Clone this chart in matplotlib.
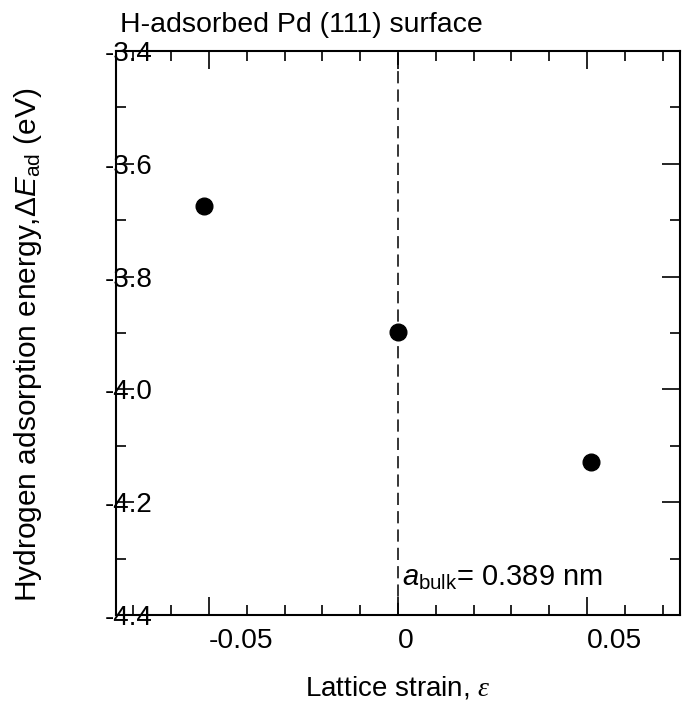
import matplotlib
matplotlib.use("Agg")
import matplotlib.pyplot as plt

# lattice strain vs H adsorption energy on Pd(111)
strain = [-0.0514, 0.0, 0.0511]
energy = [-3.674, -3.899, -4.129]
xticks = [-0.05, 0.0, 0.05]
xticklabels = ["-0.05", "0", "0.05"]
yticks = [-3.4, -3.6, -3.8, -4.0, -4.2, -4.4]
yticklabels = ["-3.4", "-3.6", "-3.8", "-4.0", "-4.2", "-4.4"]

plt.rcParams['font.family'] = ['Liberation Sans', 'DejaVu Sans']
plt.rcParams['mathtext.fontset'] = 'custom'
plt.rcParams['mathtext.rm'] = 'Liberation Sans'
plt.rcParams['mathtext.it'] = 'Liberation Sans:italic'
plt.rcParams['mathtext.cal'] = 'Liberation Serif:italic'

fig = plt.figure(figsize=(6.82, 7.07), dpi=100)
ax = fig.add_axes([116/682, 92/707, 564/682, 564/707])

ax.axvline(0, color='black', lw=1.1, ls=(0, (8, 4)), zorder=1)
ax.plot(strain, energy, 'o', color='black', ms=12, zorder=3)

ax.set_xlim(-0.0746, 0.0746)
ax.set_ylim(-4.4, -3.4)
ax.set_xticks(xticks)
ax.set_xticklabels(xticklabels, ha='left')
ax.set_yticks(yticks)
ax.set_yticklabels(yticklabels, ha='left')
ax.set_xticks([x / 100 for x in range(-7, 8)], minor=True)
ax.set_yticks([-3.4 - y / 10 for y in range(11)], minor=True)

ax.tick_params(which='both', direction='in', top=True, right=True, width=1.2)
ax.tick_params(which='major', length=13)
ax.tick_params(which='minor', length=7)
ax.tick_params(axis='x', labelsize=20.3, pad=9)
ax.tick_params(axis='y', labelsize=20, pad=8)
for s in ax.spines.values():
    s.set_linewidth(1.5)

ax.text(0.001, -4.334, r"$a_{\rm bulk}$= 0.389 nm", fontsize=21, va='center', ha='left')

ax.set_xlabel(r"Lattice strain, $\mathcal{\varepsilon}$", fontsize=20)
ax.xaxis.set_label_coords(0.5, -0.105)
ax.set_ylabel(r"Hydrogen adsorption energy,$\Delta E_{\rm ad}$ (eV)", fontsize=21.5)
ax.yaxis.set_label_coords(-0.128, 0.478)

fig.text(120/682, 1 - 32/707, "H-adsorbed Pd (111) surface", fontsize=20.5, va='baseline', ha='left')

fig.savefig("out.png", dpi=100)
